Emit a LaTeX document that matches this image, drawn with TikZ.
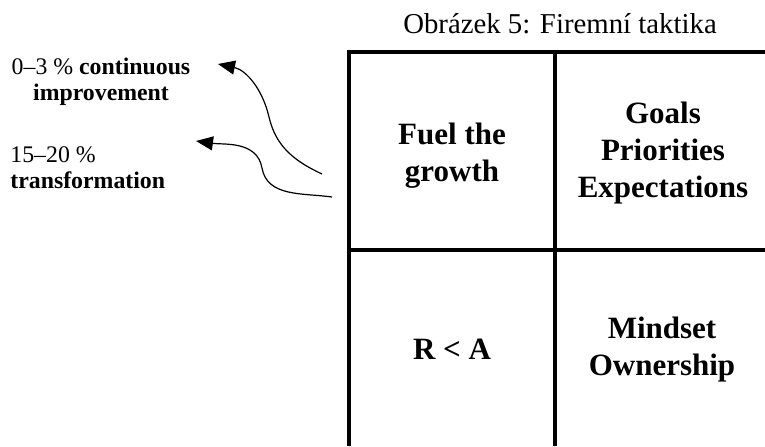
\documentclass[tikz,border=0pt]{standalone}
\usepackage{fontspec}
\setmainfont{Liberation Serif}
\usetikzlibrary{arrows.meta,calc}

\begin{document}
\begin{tikzpicture}[x=0.5pt,y=0.5pt,
    cell/.style={align=center,inner sep=0pt,font=\fontsize{15.5}{18.5}\selectfont\bfseries},
    note/.style={inner sep=0pt,font=\fontsize{11.9}{13}\selectfont},
    pointer/.style={line width=0.6pt,-{Triangle[length=8.5pt,width=7pt]}}]
\useasboundingbox (0,0) rectangle (765,446);

% grid
\draw[line width=2pt] (349,0) -- (349,394) -- (765,394);
\draw[line width=2pt] (555,0) -- (555,394);
\draw[line width=2pt] (349,196) -- (765,196);

\node[anchor=base,inner sep=0pt,font=\fontsize{14.4}{17}\selectfont] (caption) at (560,413) {Obrázek 5: Firemní taktika};

\node[cell] (fuel) at (452,290) {Fuel the\\growth};
\node[cell] (goals) at (663,293) {Goals\\Priorities\\Expectations};
\node[cell] (ratio) at (452,97) {R < A};
\node[cell] (mindset) at (662,96) {Mindset\\Ownership};

\node[note,align=center] (improve) at (101,364) {0–3 \% \textbf{continuous}\\\textbf{improvement}};
\node[note,align=left,anchor=west] (transform) at (10,278.5) {15–20 \%\\\textbf{transformation}};

% arrows
\coordinate (s1) at (322,272);
\coordinate (m1) at (269,329);
\coordinate (t1) at (218,382);
\coordinate (s2) at (332,249);
\coordinate (m2) at (262,278);
\coordinate (t2) at (196,305);

\draw[pointer] (s1) to[out=155,in=-77] (m1) to[out=103,in=-12] (t1);
\draw[pointer] (s2) to[out=172,in=-80] (m2) to[out=100,in=-8] (t2);

\end{tikzpicture}
\end{document}
